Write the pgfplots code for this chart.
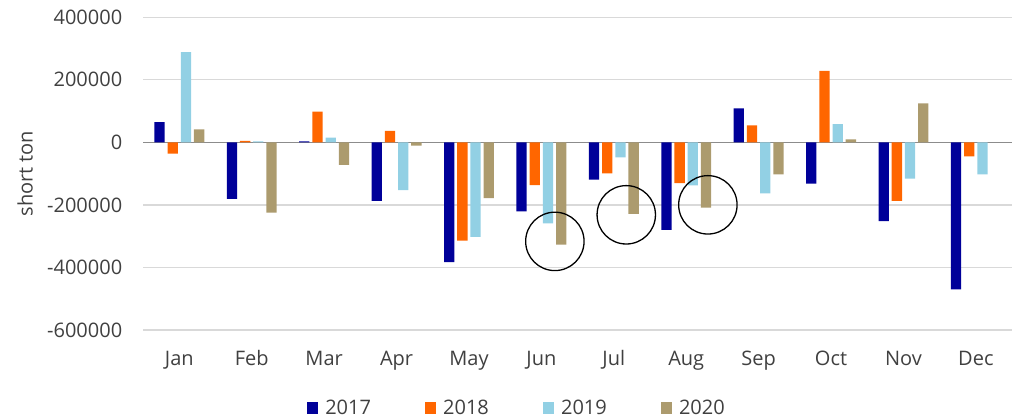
\documentclass[border=0pt]{standalone}
\usepackage{fontspec}
\setmainfont{Open Sans}
\usepackage{pgfplots}
\pgfplotsset{compat=1.18}
\pgfplotsset{/pgfplots/ybar legend/.style={/pgfplots/legend image code/.code={\fill[##1] (0bp,-5.75bp) rectangle (11.5bp,5.75bp);}}}
\definecolor{c17}{RGB}{0,0,153}
\definecolor{c18}{RGB}{255,102,0}
\definecolor{c19}{RGB}{146,208,228}
\definecolor{c20}{RGB}{172,155,110}
\definecolor{gridgray}{RGB}{217,217,217}
\definecolor{zerogray}{RGB}{140,140,140}
\definecolor{textgray}{RGB}{64,64,64}
\begin{document}
\begin{tikzpicture}
\useasboundingbox (-143.1bp,-88bp) rectangle (871.9bp,330bp);
\begin{axis}[
  scale only axis, width=869bp, height=312.7bp,
  xmin=-0.5, xmax=11.5, ymin=-600000, ymax=400000,
  ybar=2.9bp, bar width=10.3bp,
  axis line style={draw=none},
  major tick length=0pt,
  xtick={0,...,11},
  xticklabels={Jan,Feb,Mar,Apr,May,Jun,Jul,Aug,Sep,Oct,Nov,Dec},
  ytick={-600000,-400000,-200000,0,200000,400000},
  ymajorgrids, grid style={color=gridgray, line width=1.2bp},
  extra y ticks={0}, extra y tick labels={},
  extra y tick style={grid style={color=zerogray, line width=1.3bp}},
  scaled y ticks=false,
  /pgf/number format/fixed, /pgf/number format/1000 sep={}, /pgf/number format/assume math mode=true,
  tick label style={font=\fontsize{20bp}{24bp}\selectfont, text=textgray},
  yticklabel style={anchor=east, inner sep=0pt, xshift=-20.7bp},
  xticklabel style={anchor=base, inner sep=0pt, yshift=-35bp},
  ylabel={short ton},
  ylabel style={at={(axis description cs:-0.1359,0.5)}, anchor=center, font=\fontsize{20bp}{24bp}\selectfont, text=textgray},
  legend style={at={(axis description cs:0.43,-0.25)}, anchor=center, draw=none, fill=none,
    font=\fontsize{20bp}{24bp}\selectfont, text=textgray,
    /tikz/every odd column/.append style={column sep=5bp},
    /tikz/every even column/.append style={column sep=51.7bp}},
  legend columns=4,
]
\addplot[fill=c17, draw=none] coordinates {(0,65000) (1,-181000) (2,3000) (3,-187000) (4,-383000) (5,-221000) (6,-119500) (7,-279500) (8,109000) (9,-132000) (10,-252000) (11,-470000)};
\addplot[fill=c18, draw=none] coordinates {(0,-36000) (1,5000) (2,98000) (3,37000) (4,-314000) (5,-136500) (6,-99000) (7,-130000) (8,54000) (9,229000) (10,-187000) (11,-45000)};
\addplot[fill=c19, draw=none] coordinates {(0,289000) (1,3000) (2,15000) (3,-153000) (4,-302000) (5,-259000) (6,-48000) (7,-137500) (8,-163000) (9,58700) (10,-116000) (11,-102000)};
\addplot[fill=c20, draw=none] coordinates {(0,41500) (1,-225000) (2,-72000) (3,-10000) (4,-178000) (5,-327000) (6,-229000) (7,-209000) (8,-102000) (9,9600) (10,125000)};
\legend{2017,2018,2019,2020}
\draw[black, line width=1.3bp] (axis cs:5.186,-316600) circle[radius=29.2bp];
\draw[black, line width=1.3bp] (axis cs:6.172,-231600) circle[radius=29.2bp];
\draw[black, line width=1.3bp] (axis cs:7.299,-199700) circle[radius=29.2bp];
\end{axis}
\end{tikzpicture}
\end{document}
